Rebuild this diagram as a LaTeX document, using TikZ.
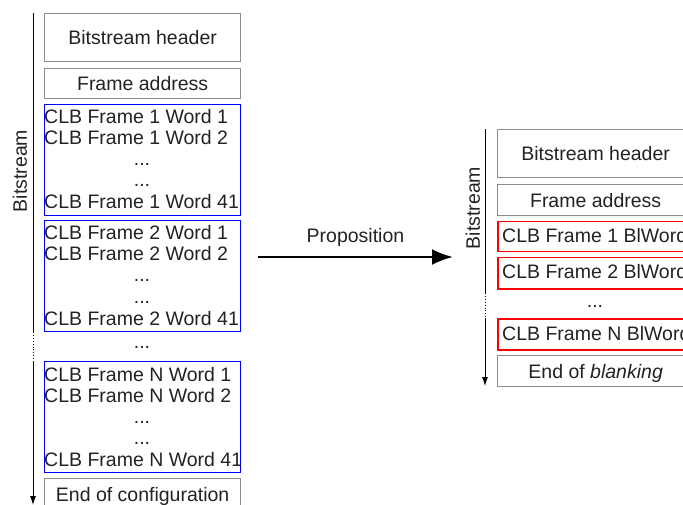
\documentclass[tikz,border=0pt]{standalone}
\usepackage{fontspec}
\setmainfont{Liberation Sans}
\usetikzlibrary{arrows.meta,positioning}
\definecolor{boxgray}{HTML}{8C8C8C}
\definecolor{inkgray}{HTML}{222222}
\definecolor{wordred}{HTML}{FF0000}

\begin{document}
\begin{tikzpicture}[x=1pt,y=-1pt,>=Latex,
  every node/.style={font=\fontsize{19.5}{21}\selectfont,inner sep=0pt},
  greybox/.style={draw=boxgray,text=inkgray,line width=1.3pt,minimum width=196pt,anchor=north west,text height=14pt,text depth=0pt},
  bluebox/.style={draw=blue,line width=1.3pt,minimum width=196pt,anchor=north west},
  redbox/.style={draw=wordred,line width=1.5pt,minimum width=196pt,anchor=north west},
  word/.style={anchor=base west,text=inkgray},
  dots/.style={anchor=base,text=inkgray}]
\clip (0,0) rectangle (683,505);
% left bitstream
\node[greybox,minimum height=48pt] (hdr) at (44,13) {Bitstream header};
\node[greybox,minimum height=30pt] (addr) at (44,68) {Frame address};
\foreach \n/\top in {1/104,2/220,N/361}{
  \node[bluebox,minimum height=111pt] (f\n) at (44,\top) {};
  \node[word] (f\n-1) at (44,\top+20) {CLB Frame \n{} Word 1};
  \node[word] (f\n-2) at (44,\top+41) {CLB Frame \n{} Word 2};
  \node[dots] (f\n-3) at (142,\top+62) {...};
  \node[dots] (f\n-4) at (142,\top+83) {...};
  \node[word] (f\n-5) at (44,\top+105) {CLB Frame \n{} Word 41};
}
\node[dots] (gap) at (142,348) {...};
\node[greybox,minimum height=32pt] (endcfg) at (44,478) {End of configuration};
\node[rotate=90,text=inkgray] (lbl) at (20,171) {Bitstream};
\coordinate (l0) at (33,13);
\coordinate (l1) at (33,332);
\coordinate (l2) at (33,362);
\coordinate (l3) at (33,505);
\draw[line width=0.9pt] (l0) -- (l1);
\draw[line width=0.9pt,dotted] (l1) -- (l2);
\draw[line width=0.9pt,-{Latex[length=9pt,width=6pt]}] (l2) -- (l3);
% proposition
\coordinate (p0) at (258,257);
\coordinate (p1) at (453,257);
\draw[line width=2.5pt,-{Latex[length=21pt,width=16pt]}] (p0) -- (p1)
  node[midway,above=13pt,text=inkgray,text height=14pt,text depth=0pt] (prop) {Proposition};
% right bitstream
\node[greybox,minimum height=48pt] (rhdr) at (497,129) {Bitstream header};
\node[greybox,minimum height=31pt] (raddr) at (497,184) {Frame address};
\node[redbox,minimum height=30pt] (b1) at (497,221) {};
\node[word] (b1-t) at (502,243) {CLB Frame 1 BlWord};
\node[redbox,minimum height=31pt] (b2) at (497,257) {};
\node[word] (b2-t) at (502,279) {CLB Frame 2 BlWord};
\node[dots] (rgap) at (595,307) {...};
\node[redbox,minimum height=31pt] (bN) at (497,318) {};
\node[word] (bN-t) at (502,340) {CLB Frame N BlWord};
\node[greybox,minimum height=31pt] (rend) at (497,355) {End of \textit{blanking}};
\node[rotate=90,text=inkgray] (rlbl) at (473,208) {Bitstream};
\coordinate (r0) at (485,129);
\coordinate (r1) at (485,293);
\coordinate (r2) at (485,318);
\coordinate (r3) at (485,386);
\draw[line width=0.9pt] (r0) -- (r1);
\draw[line width=0.9pt,dotted] (r1) -- (r2);
\draw[line width=0.9pt,-{Latex[length=9pt,width=6pt]}] (r2) -- (r3);
\end{tikzpicture}
\end{document}
